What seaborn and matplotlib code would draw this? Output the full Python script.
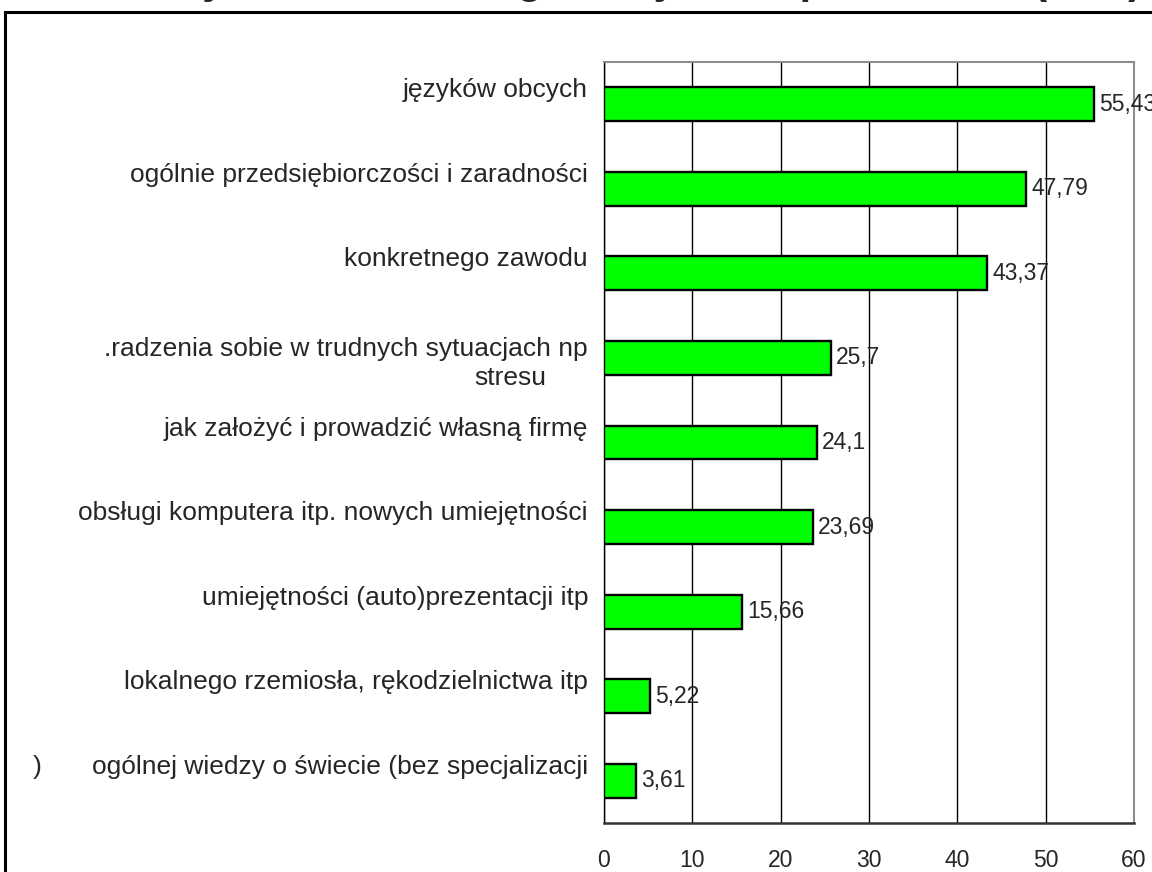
import numpy as np
import pandas as pd
import matplotlib
matplotlib.use("Agg")
import matplotlib.pyplot as plt
import seaborn as sns
from matplotlib.patches import Rectangle

categories = [
    "języków obcych",
    "ogólnie przedsiębiorczości i zaradności",
    "konkretnego zawodu",
    ".radzenia sobie w trudnych sytuacjach np",
    "jak założyć i prowadzić własną firmę",
    "obsługi komputera itp. nowych umiejętności",
    "umiejętności (auto)prezentacji itp",
    "lokalnego rzemiosła, rękodzielnictwa itp",
    "ogólnej wiedzy o świecie (bez specjalizacji",
]
values = [55.43, 47.79, 43.37, 25.7, 24.1, 23.69, 15.66, 5.22, 3.61]
value_labels = ["55,43", "47,79", "43,37", "25,7", "24,1", "23,69", "15,66", "5,22", "3,61"]
x_ticks = [0, 10, 20, 30, 40, 50, 60]
title = "Czego przede wszystkim powinna uczyć szkoła według młodych respondentów (w %)"

sns.set_style("white")
plt.rcParams["font.family"] = ["Liberation Sans", "DejaVu Sans"]

df = pd.DataFrame({"cat": categories, "val": values})

fig = plt.figure(figsize=(11.52, 8.72), dpi=100)
ax = fig.add_axes([604 / 1152, 1 - 823 / 872, (1134 - 604) / 1152, (823 - 62) / 872])

sns.barplot(data=df, x="val", y="cat", orient="h", color="#00FF00", saturation=1,
            edgecolor="black", linewidth=1.7, width=0.4, ax=ax, zorder=3)

ax.set_xlim(0, 60)
ax.set_ylim(8.5, -0.5)
ax.set_xticks(x_ticks)
ax.set_xticklabels([str(t) for t in x_ticks], fontsize=16.5)
ax.set_yticks(np.arange(-0.5, 9.0, 1.0))
ax.set_yticklabels([])
ax.tick_params(axis="y", direction="out", length=9, width=1, color="black")
ax.tick_params(axis="x", direction="out", length=7, width=1, color="black", pad=12)
ax.set_xlabel("")
ax.set_ylabel("")
ax.xaxis.grid(True, color="black", linewidth=1)
ax.yaxis.grid(False)
ax.set_axisbelow(True)
for s in ["top", "right"]:
    ax.spines[s].set_color("#8c8c8c")
    ax.spines[s].set_linewidth(1.5)
ax.spines["left"].set_color("black")
ax.spines["left"].set_linewidth(1)
ax.spines["bottom"].set_color("#333333")
ax.spines["bottom"].set_linewidth(1.8)

# category labels
trans = ax.get_yaxis_transform()
for i, cat in enumerate(categories):
    dy = 14
    if i == 3:
        dy = 9
    ax.annotate(cat, xy=(0, i), xycoords=trans, xytext=(-16, dy), textcoords="offset pixels",
                ha="right", va="center", fontsize=19, annotation_clip=False)
ax.annotate("stresu", xy=(0, 3), xycoords=trans, xytext=(-94, -20), textcoords="offset pixels",
            ha="center", va="center", fontsize=19, annotation_clip=False)
ax.annotate(")", xy=(0, 8), xycoords=trans, xytext=(-567, 14), textcoords="offset pixels",
            ha="center", va="center", fontsize=19, annotation_clip=False)

# value labels
for i, (v, lab) in enumerate(zip(values, value_labels)):
    ax.annotate(lab, xy=(v, i), xycoords="data", xytext=(5, 0), textcoords="offset pixels",
                ha="left", va="center", fontsize=16.5, annotation_clip=False, zorder=5)

# outer chart frame
fig.patches.append(Rectangle((4.5 / 1152, -0.1), 1.2, 1.1 - 12 / 872, transform=fig.transFigure,
                             fill=False, edgecolor="black", linewidth=2.2, zorder=0))

# title, cut off at the top edge as in the reference (only descenders visible)
fig.text(1142 / 1152, 1 + 7 / 872, title, ha="right", va="baseline",
         fontsize=30, fontweight="bold")

fig.savefig("out.png", dpi=100)
